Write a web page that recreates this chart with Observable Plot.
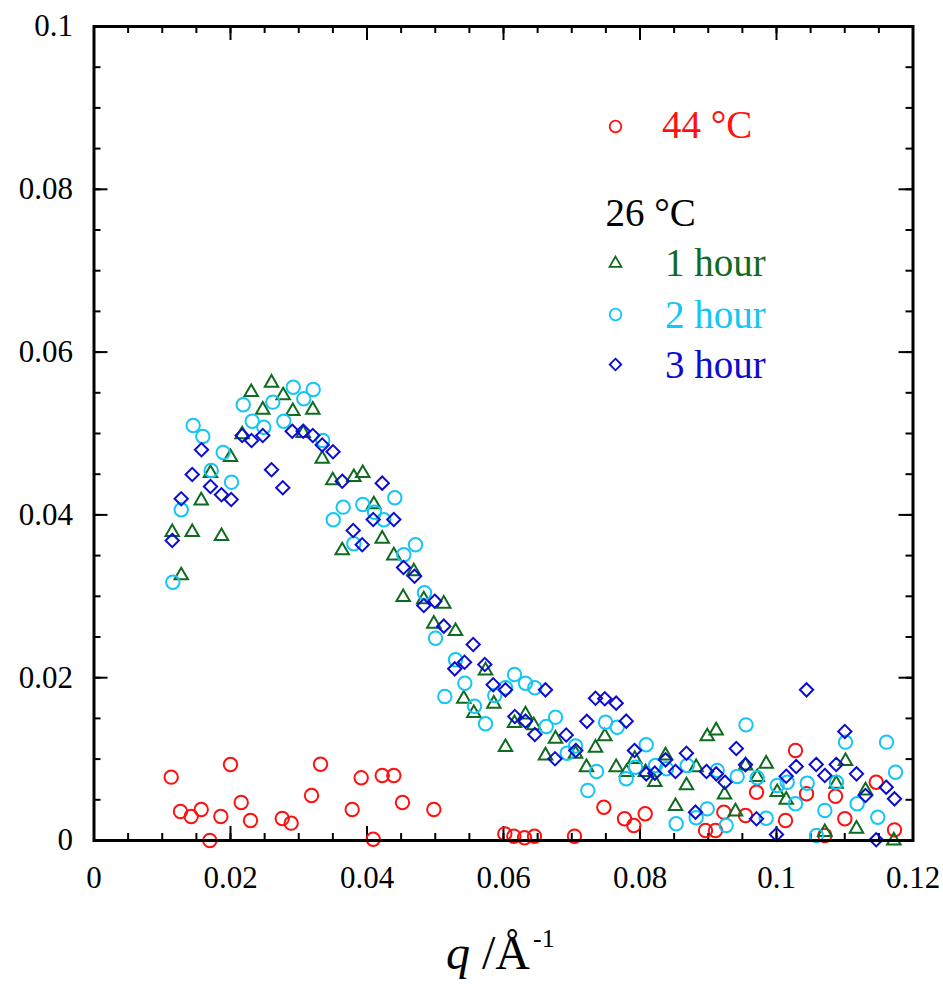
<!DOCTYPE html>
<html>
<head>
<meta charset="utf-8">
<script src="https://cdn.jsdelivr.net/npm/d3@7"></script>
<script src="https://cdn.jsdelivr.net/npm/@observablehq/plot@0.6"></script>
<style>
  html, body { margin: 0; padding: 0; background: #fff; }
  #chart { width: 943px; height: 986px; }
</style>
</head>
<body>
<div id="chart"></div>
<script>
// ---- data (q in 1/Å, intensity) ----
const q44 = [0.01131,0.01267,0.01424,0.01571,0.01697,0.01858,0.02000,0.02157,0.02293,0.02758,0.02889,0.03187,0.03319,0.03783,0.03915,0.04091,0.04223,0.04393,0.04520,0.04979,0.06019,0.06151,0.06308,0.06454,0.07040,0.07470,0.07773,0.07909,0.08076,0.08960,0.09106,0.09228,0.09546,0.09707,0.10132,0.10278,0.10440,0.10708,0.10864,0.11001,0.11461,0.11729];
const i44 = [0.00778,0.00356,0.00295,0.00381,0.00000,0.00295,0.00934,0.00467,0.00246,0.00270,0.00213,0.00553,0.00937,0.00381,0.00770,0.00016,0.00799,0.00799,0.00467,0.00381,0.00082,0.00053,0.00033,0.00053,0.00053,0.00409,0.00267,0.00184,0.00328,0.00123,0.00123,0.00348,0.00307,0.00593,0.00246,0.01106,0.00574,0.00061,0.00544,0.00267,0.00716,0.00131];

const q1h = [0.01146,0.01278,0.01439,0.01571,0.01707,0.01868,0.02000,0.02171,0.02303,0.02473,0.02601,0.02772,0.02913,0.03065,0.03206,0.03344,0.03499,0.03637,0.03807,0.03938,0.04100,0.04223,0.04393,0.04530,0.04686,0.04832,0.04979,0.05125,0.05297,0.05418,0.05565,0.05736,0.05858,0.06029,0.06161,0.06322,0.06444,0.06615,0.06762,0.07055,0.07216,0.07348,0.07484,0.07651,0.07802,0.07923,0.08081,0.08217,0.08374,0.08520,0.08681,0.08823,0.08985,0.09116,0.09238,0.09399,0.09546,0.09717,0.09849,0.10010,0.10142,0.10708,0.10875,0.11011,0.11172,0.11304,0.11719];
const i1h = [0.03788,0.03256,0.03788,0.04177,0.04512,0.03738,0.04709,0.04988,0.05507,0.05291,0.05623,0.05467,0.05274,0.05004,0.05291,0.04689,0.04423,0.03563,0.04463,0.04512,0.04128,0.03706,0.03501,0.02989,0.03305,0.02961,0.02662,0.02908,0.02571,0.01741,0.01564,0.02088,0.01679,0.01146,0.01441,0.01548,0.01413,0.01044,0.01249,0.01065,0.00900,0.01139,0.01278,0.00900,0.00839,0.01000,0.00839,0.00716,0.01044,0.00421,0.00676,0.00900,0.01278,0.01351,0.00565,0.00356,0.00921,0.00778,0.00942,0.00593,0.00500,0.00102,0.00697,0.00974,0.00144,0.00614,0.00000];

const q2h = [0.01155,0.01278,0.01453,0.01594,0.01717,0.01893,0.02015,0.02186,0.02318,0.02488,0.02620,0.02781,0.02919,0.03074,0.03212,0.03352,0.03505,0.03651,0.03807,0.03938,0.04110,0.04246,0.04407,0.04539,0.04711,0.04842,0.05004,0.05140,0.05297,0.05433,0.05575,0.05736,0.05872,0.06029,0.06161,0.06322,0.06459,0.06626,0.06762,0.06933,0.07055,0.07235,0.07363,0.07495,0.07666,0.07798,0.07934,0.08091,0.08227,0.08388,0.08530,0.08692,0.08823,0.08985,0.09131,0.09263,0.09424,0.09553,0.09717,0.09849,0.10010,0.10157,0.10278,0.10450,0.10586,0.10708,0.10879,0.11011,0.11182,0.11484,0.11612,0.11744];
const i2h = [0.03173,0.04063,0.05098,0.04963,0.04545,0.04767,0.04402,0.05353,0.05151,0.05077,0.05385,0.05151,0.05569,0.05426,0.05541,0.04914,0.03940,0.04095,0.03645,0.04128,0.04033,0.03940,0.04210,0.03510,0.03633,0.03043,0.02485,0.01769,0.02220,0.01932,0.01650,0.01434,0.01781,0.01876,0.02039,0.01932,0.01876,0.01400,0.01515,0.01072,0.01161,0.00614,0.00848,0.01453,0.01392,0.00758,0.00900,0.01176,0.00921,0.00881,0.00205,0.00921,0.00279,0.00389,0.00860,0.00184,0.00786,0.01421,0.00770,0.00274,0.00676,0.00716,0.00451,0.00704,0.00061,0.00369,0.00716,0.01208,0.00451,0.00286,0.01208,0.00839];

const q3h = [0.01146,0.01278,0.01439,0.01575,0.01707,0.01868,0.02010,0.02171,0.02308,0.02473,0.02601,0.02766,0.02904,0.03065,0.03206,0.03344,0.03502,0.03637,0.03798,0.03930,0.04091,0.04223,0.04393,0.04535,0.04696,0.04832,0.04993,0.05125,0.05286,0.05429,0.05556,0.05726,0.05849,0.06029,0.06166,0.06322,0.06459,0.06615,0.06755,0.06919,0.07059,0.07221,0.07348,0.07484,0.07651,0.07798,0.07919,0.08091,0.08217,0.08374,0.08520,0.08681,0.08813,0.08974,0.09117,0.09245,0.09411,0.09546,0.09707,0.10000,0.10142,0.10289,0.10440,0.10582,0.10708,0.10875,0.11001,0.11172,0.11304,0.11461,0.11607,0.11729];
const i3h = [0.03686,0.04198,0.04496,0.04800,0.04349,0.04247,0.04189,0.04975,0.04914,0.04975,0.04554,0.04333,0.05028,0.05028,0.04975,0.04859,0.04776,0.04414,0.03808,0.03633,0.03943,0.04390,0.03943,0.03354,0.03246,0.02887,0.02940,0.02633,0.02109,0.02190,0.02408,0.02162,0.01913,0.01851,0.01523,0.01466,0.01302,0.01851,0.01004,0.01296,0.01106,0.01464,0.01747,0.01741,0.01687,0.01466,0.01106,0.00819,0.00827,0.00991,0.00848,0.01072,0.00348,0.00848,0.00819,0.00716,0.01130,0.00931,0.00267,0.00074,0.00790,0.00909,0.01851,0.00934,0.00799,0.00934,0.01339,0.00819,0.00553,0.00009,0.00655,0.00512];

const xTicks = [0, 0.02, 0.04, 0.06, 0.08, 0.1, 0.12];
const xTickLabels = ["0", "0.02", "0.04", "0.06", "0.08", "0.1", "0.12"];
const yTicks = [0, 0.02, 0.04, 0.06, 0.08, 0.1];
const yTickLabels = ["0", "0.02", "0.04", "0.06", "0.08", "0.1"];
const xMinor = d3.range(0, 25).map(i => i * 0.005);
const yMinor = d3.range(0, 21).map(i => i * 0.005);

const legendMarks = ["44 °C", "1 hour", "2 hour", "3 hour"];
const legendHeader = "26 °C";

// ---- styles ----
const RED = "#ff1010", GREEN = "#0f6b1f", CYAN = "#14c5f5", BLUE = "#0c0cd0";
const FONT = "'Liberation Serif', 'Times New Roman', serif";

const squareDiamond = {
  draw(ctx, size) {
    const r = Math.sqrt(size / 2);
    ctx.moveTo(0, -r); ctx.lineTo(r, 0); ctx.lineTo(0, r); ctx.lineTo(-r, 0); ctx.closePath();
  }
};

const W = 943, H = 986;
const mL = 93.5, mR = 30.5, mT = 26, mB = 146;
const fw = W - mL - mR, fh = H - mT - mB;
const majorLen = 14, minorLen = 7;

const pts = (qs, is) => qs.map((q, k) => ({q, I: is[k]}));

const series = [
  {data: pts(q44, i44), stroke: RED, symbol: "circle", r: 6.7},
  {data: pts(q1h, i1h), stroke: GREEN, symbol: "triangle", r: 5.0},
  {data: pts(q2h, i2h), stroke: CYAN, symbol: "circle", r: 6.7},
  {data: pts(q3h, i3h), stroke: BLUE, symbol: squareDiamond, r: 5.3}
];

const legendRows = [
  {label: legendMarks[0], color: RED, symbol: "circle", r: 5.8, my: 100, ty: 99, tx: 568},
  {label: legendMarks[1], color: GREEN, symbol: "triangle", r: 4.4, my: 237, ty: 237, tx: 571},
  {label: legendMarks[2], color: CYAN, symbol: "circle", r: 5.8, my: 288, ty: 289, tx: 571},
  {label: legendMarks[3], color: BLUE, symbol: squareDiamond, r: 4.6, my: 338, ty: 339, tx: 571}
];

const marks = [];
// ticks (inside, all four sides)
const tickStyle = {stroke: "#000", strokeWidth: 2};
marks.push(Plot.tickX(xMinor, {x: d => d, insetTop: fh - minorLen, ...tickStyle}));
marks.push(Plot.tickX(xMinor, {x: d => d, insetBottom: fh - minorLen, ...tickStyle}));
marks.push(Plot.tickX(xTicks, {x: d => d, insetTop: fh - majorLen, ...tickStyle}));
marks.push(Plot.tickX(xTicks, {x: d => d, insetBottom: fh - majorLen, ...tickStyle}));
marks.push(Plot.tickY(yMinor, {y: d => d, insetRight: fw - minorLen, ...tickStyle}));
marks.push(Plot.tickY(yMinor, {y: d => d, insetLeft: fw - minorLen, ...tickStyle}));
marks.push(Plot.tickY(yTicks, {y: d => d, insetRight: fw - majorLen, ...tickStyle}));
marks.push(Plot.tickY(yTicks, {y: d => d, insetLeft: fw - majorLen, ...tickStyle}));

// axis labels
marks.push(Plot.axisX(xTicks, {tickSize: 0, tickPadding: 25, fontSize: 31, label: null, fontFamily: FONT,
  tickFormat: d => xTickLabels[xTicks.indexOf(d)]}));
marks.push(Plot.axisY(yTicks, {tickSize: 0, tickPadding: 21, fontSize: 31, label: null, fontFamily: FONT,
  tickFormat: d => yTickLabels[yTicks.indexOf(d)]}));

// data
for (const s of series) {
  marks.push(Plot.dot(s.data, {x: "q", y: "I", symbol: s.symbol, r: s.r, stroke: s.stroke, strokeWidth: 2, fill: "none"}));
}

marks.push(Plot.frame({stroke: "#000", strokeWidth: 3}));

// legend
for (const row of legendRows) {
  marks.push(Plot.dot([row.label], {frameAnchor: "top-left", dx: 521.5, dy: row.my, symbol: row.symbol, r: row.r, stroke: row.color, strokeWidth: 1.8, fill: "none"}));
  marks.push(Plot.text([row.label], {frameAnchor: "top-left", dx: row.tx, dy: row.ty, text: d => d, fill: row.color, fontSize: 39, fontFamily: FONT, textAnchor: "start", lineAnchor: "middle"}));
}
marks.push(Plot.text([legendHeader], {frameAnchor: "top-left", dx: 511.5, dy: 187, text: d => d, fill: "#000", fontSize: 39, fontFamily: FONT, textAnchor: "start", lineAnchor: "middle"}));

const chart = Plot.plot({
  width: W, height: H,
  marginLeft: mL, marginRight: mR, marginTop: mT, marginBottom: mB,
  x: {domain: [0, 0.12], axis: null},
  y: {domain: [0, 0.1], axis: null},
  style: {fontFamily: FONT, color: "#000", background: "#fff", overflow: "visible"},
  marks
});

// axis title with italic q and superscript
const svg = d3.select(chart);
const t = svg.append("text")
  .attr("x", 446).attr("y", 969)
  .attr("text-anchor", "start")
  .attr("font-family", FONT).attr("font-size", 48).attr("fill", "#000");
t.append("tspan").attr("font-style", "italic").text("q");
t.append("tspan").text(" /Å");
t.append("tspan").attr("font-size", 26).attr("dx", 3).attr("dy", -22).text("-1");

document.getElementById("chart").appendChild(chart);
</script>
</body>
</html>
